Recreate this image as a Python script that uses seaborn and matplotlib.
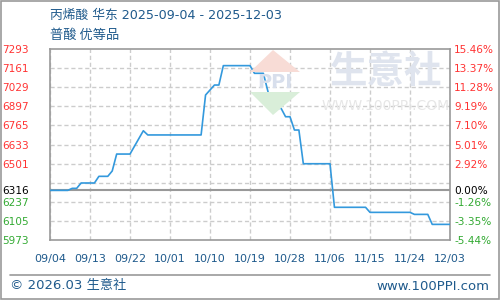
import matplotlib
matplotlib.use("Agg")
import matplotlib.pyplot as plt
import matplotlib.patches as mpatches
import pandas as pd
import seaborn as sns

# ---- data ----
dates = ["2025-09-04", "2025-09-08", "2025-09-09", "2025-09-10", "2025-09-11",
         "2025-09-14", "2025-09-15", "2025-09-17", "2025-09-18", "2025-09-19",
         "2025-09-22", "2025-09-25", "2025-09-26", "2025-10-08", "2025-10-09",
         "2025-10-11", "2025-10-12", "2025-10-13", "2025-10-19", "2025-10-20",
         "2025-10-22", "2025-10-24", "2025-10-26", "2025-10-27", "2025-10-28",
         "2025-10-29", "2025-10-30", "2025-10-31", "2025-11-06", "2025-11-07",
         "2025-11-14", "2025-11-15", "2025-11-24", "2025-11-25", "2025-11-28",
         "2025-11-29", "2025-12-03"]
prices = [6316, 6316, 6330, 6330, 6367,
          6367, 6413, 6413, 6450, 6567,
          6567, 6728, 6699, 6699, 6975,
          7044, 7044, 7178, 7178, 7125,
          7125, 6883, 6883, 6825, 6825,
          6733, 6733, 6500, 6500, 6199,
          6199, 6164, 6164, 6150, 6150,
          6081, 6081]

base_price = 6316
left_ticks = [7293, 7161, 7029, 6897, 6765, 6633, 6501, 6316, 6237, 6105, 5973]
left_labels = ["7293", "7161", "7029", "6897", "6765", "6633", "6501", "6316", "6237", "6105", "5973"]
right_labels = ["15.46%", "13.37%", "11.28%", "9.19%", "7.10%", "5.01%", "2.92%",
                "0.00%", "-1.26%", "-3.35%", "-5.44%"]
grid_levels = [6105, 6237, 6369, 6501, 6633, 6765, 6897, 7029, 7161]
x_tick_dates = ["2025-09-04", "2025-09-13", "2025-09-22", "2025-10-01", "2025-10-10",
                "2025-10-19", "2025-10-28", "2025-11-06", "2025-11-15", "2025-11-24",
                "2025-12-03"]
x_tick_labels = ["09/04", "09/13", "09/22", "10/01", "10/10", "10/19", "10/28",
                 "11/06", "11/15", "11/24", "12/03"]

title = "丙烯酸 华东 2025-09-04 - 2025-12-03"
subtitle = "普酸 优等品"

# ---- style ----
sns.set_theme(style="white")
plt.rcParams["font.family"] = ["DejaVu Sans", "Noto Sans CJK SC"]

BLUE_TXT = "#1f5a8c"
RED = "#ff3333"
GREEN = "#33aa33"
GRAY = "#999999"

df = pd.DataFrame({"date": pd.to_datetime(dates), "price": prices})

fig = plt.figure(figsize=(5, 3), dpi=100)
fig.patch.set_facecolor("white")

ax = fig.add_axes([0.1, 0.2, 0.8, 191 / 300])
ax.set_facecolor("none")

# watermark (behind everything)
wm = dict(transform=fig.transFigure, zorder=0)
fig.patches.append(mpatches.Polygon([[250 / 500, 1 - 72 / 300], [273 / 500, 1 - 50 / 300], [300 / 500, 1 - 72 / 300]],
                                    closed=True, facecolor="#f8dcd6", edgecolor="none", **wm))
fig.patches.append(mpatches.Polygon([[250 / 500, 1 - 92 / 300], [273 / 500, 1 - 115 / 300], [300 / 500, 1 - 92 / 300]],
                                    closed=True, facecolor="#d9eed9", edgecolor="none", **wm))
fig.text(275 / 500, 1 - 83 / 300, "PPI", fontsize=14, fontweight="bold", color="#d8dfec",
         ha="center", va="center", zorder=0)
fig.text(386 / 500, 1 - 72 / 300, "生意社", fontsize=27, fontweight="bold", color="#dfe4ee",
         ha="center", va="center", family=["Noto Sans CJK SC"], zorder=0)
fig.text(386 / 500, 1 - 106 / 300, "WWW.100PPI.COM", fontsize=10, color="#e6e6e6",
         ha="center", va="center", zorder=0)

sns.lineplot(data=df, x="date", y="price", ax=ax, color="#3399dd", linewidth=1.2, zorder=5)

ax.set_xlim(pd.Timestamp(x_tick_dates[0]), pd.Timestamp(x_tick_dates[-1]))
ax.set_ylim(left_ticks[-1], left_ticks[0])
ax.set_xlabel("")
ax.set_ylabel("")

# grid
ax.set_xticks(pd.to_datetime(x_tick_dates))
ax.set_xticklabels(x_tick_labels)
ax.grid(axis="x", which="major", linestyle=(0, (3, 2)), color="#cccccc", linewidth=1.0)
ax.yaxis.remove_overlapping_locs = False
ax.set_yticks(left_ticks)
ax.set_yticklabels(left_labels)
ax.set_yticks(grid_levels, minor=True)
ax.grid(axis="y", which="major", visible=False)
ax.grid(axis="y", which="minor", linestyle=(0, (3, 2)), color="#cccccc", linewidth=1.0)
ax.axhline(base_price, color=GRAY, linewidth=1.5, zorder=4)

ax.tick_params(axis="x", length=0, pad=10, labelsize=8, labelcolor=BLUE_TXT)
ax.tick_params(axis="y", which="both", length=0, pad=15, labelsize=7.6)


def tick_color(v):
    if v > base_price:
        return RED
    if v < base_price:
        return GREEN
    return "black"


for lbl, v in zip(ax.get_yticklabels(), left_ticks):
    lbl.set_color(tick_color(v))

for s in ax.spines.values():
    s.set_color(GRAY)
    s.set_linewidth(1.2)

ax2 = ax.twinx()
ax2.set_ylim(ax.get_ylim())
ax2.set_yticks(left_ticks)
ax2.set_yticklabels(right_labels)
ax2.tick_params(axis="y", length=0, pad=3, labelsize=7.6)
ax2.grid(False)
for lbl, v in zip(ax2.get_yticklabels(), left_ticks):
    lbl.set_color(tick_color(v))
for s in ax2.spines.values():
    s.set_visible(False)

# titles
fig.text(50 / 500, 1 - 15 / 300, title, fontsize=9.2, color=BLUE_TXT, va="center", ha="left")
fig.text(50 / 500, 1 - 35 / 300, subtitle, fontsize=9.5, color=BLUE_TXT, va="center", ha="left",
         family=["Noto Sans CJK SC", "DejaVu Sans"])

# footer
fig.add_artist(plt.Line2D([10 / 500, 490 / 500], [1 - 275 / 300, 1 - 275 / 300],
                          transform=fig.transFigure, color=GRAY, linewidth=1.2))
fig.text(10 / 500, 1 - 286 / 300, "© 2026.03 生意社", fontsize=9.5, color=BLUE_TXT, va="center", ha="left")
fig.text(489 / 500, 1 - 286 / 300, "www.100PPI.com", fontsize=9.5, color=BLUE_TXT, va="center", ha="right")

# outer border
fig.patches.append(mpatches.Rectangle((0.001, 0.002), 0.997, 0.995, transform=fig.transFigure,
                                      fill=False, edgecolor=GRAY, linewidth=1.2, zorder=10))

fig.savefig("out.png", dpi=100)
